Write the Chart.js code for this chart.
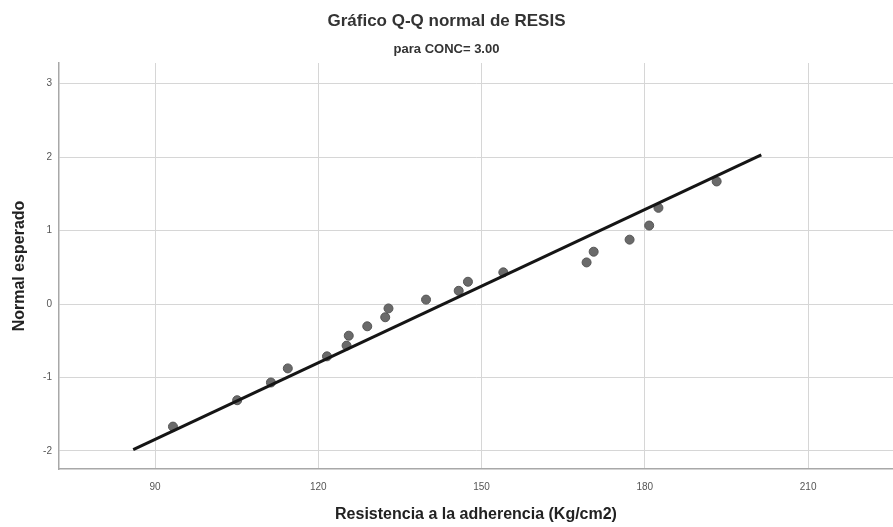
<!DOCTYPE html>
<html>
<head>
<meta charset="utf-8">
<script src="https://cdn.jsdelivr.net/npm/chart.js@4/dist/chart.umd.min.js"></script>
<style>
  html, body { margin: 0; padding: 0; background: #ffffff; }
  #wrap { width: 893px; height: 527px; }
</style>
</head>
<body>
<div id="wrap"><canvas id="qq" width="893" height="527"></canvas></div>
<script>
// Observed resistance values (Kg/cm2), sorted ascending
const resis = [93.3, 105.1, 111.3, 114.4, 121.6, 125.2, 125.6, 129.0, 132.3, 132.9,
               139.8, 145.8, 147.5, 154.0, 169.3, 170.6, 177.2, 180.8, 182.5, 193.2];
// Expected normal scores for each observation
const expected = [-1.668, -1.309, -1.068, -0.876, -0.712, -0.566, -0.431, -0.303, -0.180, -0.060,
                  0.060, 0.180, 0.303, 0.431, 0.566, 0.712, 0.876, 1.068, 1.309, 1.668];
// Reference line end points
const refLineX = [86.0, 201.4];
const refLineY = [-1.98, 2.03];
// Axis tick labels
const xTicks = [90, 120, 150, 180, 210];
const yTicks = [-2, -1, 0, 1, 2, 3];

const pointData = resis.map((x, i) => ({ x: x, y: expected[i] }));
const lineData = refLineX.map((x, i) => ({ x: x, y: refLineY[i] }));

const FONT = "'Liberation Sans', Arial, sans-serif";

new Chart(document.getElementById('qq'), {
  type: 'scatter',
  data: {
    datasets: [
      {
        label: 'Observado',
        data: pointData,
        backgroundColor: '#6a6a6a',
        borderColor: '#555555',
        borderWidth: 1,
        pointRadius: 4.5,
        order: 1
      },
      {
        label: 'Referencia',
        data: lineData,
        showLine: true,
        borderColor: '#151515',
        borderWidth: 3,
        pointRadius: 0,
        fill: false,
        order: 0
      }
    ]
  },
  options: {
    responsive: false,
    animation: false,
    layout: { padding: 0, autoPadding: false },
    plugins: {
      legend: { display: false },
      tooltip: { enabled: false },
      title: {
        display: true,
        text: 'Gráfico Q-Q normal de RESIS',
        color: '#333333',
        font: { family: FONT, size: 17, weight: 'bold' },
        padding: { top: 11, bottom: 4 }
      },
      subtitle: {
        display: true,
        text: 'para CONC= 3.00',
        color: '#333333',
        font: { family: FONT, size: 13, weight: 'bold' },
        padding: { top: 6, bottom: 6 }
      }
    },
    scales: {
      x: {
        type: 'linear',
        min: 72.36,
        max: 225.6,
        afterBuildTicks: (s) => { s.ticks = xTicks.map(v => ({ value: v })); },
        afterFit: (s) => { s.height = 58; s.paddingLeft = 0; s.paddingRight = 0; },
        grid: { color: '#d6d6d6', lineWidth: 1, drawTicks: false },
        border: { color: '#a8a8a8', width: 1.5 },
        ticks: {
          color: '#555555',
          font: { family: FONT, size: 10 },
          padding: 12,
          maxRotation: 0
        },
        title: {
          display: true,
          text: 'Resistencia a la adherencia (Kg/cm2)',
          color: '#222222',
          font: { family: FONT, size: 16, weight: 'bold' },
          padding: { top: 0, bottom: 2.5 }
        }
      },
      y: {
        type: 'linear',
        min: -2.245,
        max: 3.28,
        afterBuildTicks: (s) => { s.ticks = yTicks.map(v => ({ value: v })); },
        afterFit: (s) => { s.width = 59; s.paddingTop = 0; s.paddingBottom = 0; },
        grid: { color: '#d6d6d6', lineWidth: 1, drawTicks: false },
        border: { color: '#a8a8a8', width: 1.5 },
        ticks: {
          color: '#555555',
          font: { family: FONT, size: 10 },
          padding: 7
        },
        title: {
          display: true,
          text: 'Normal esperado',
          color: '#222222',
          font: { family: FONT, size: 16, weight: 'bold' },
          padding: { top: 9.5, bottom: 0 }
        }
      }
    }
  }
});
</script>
</body>
</html>
